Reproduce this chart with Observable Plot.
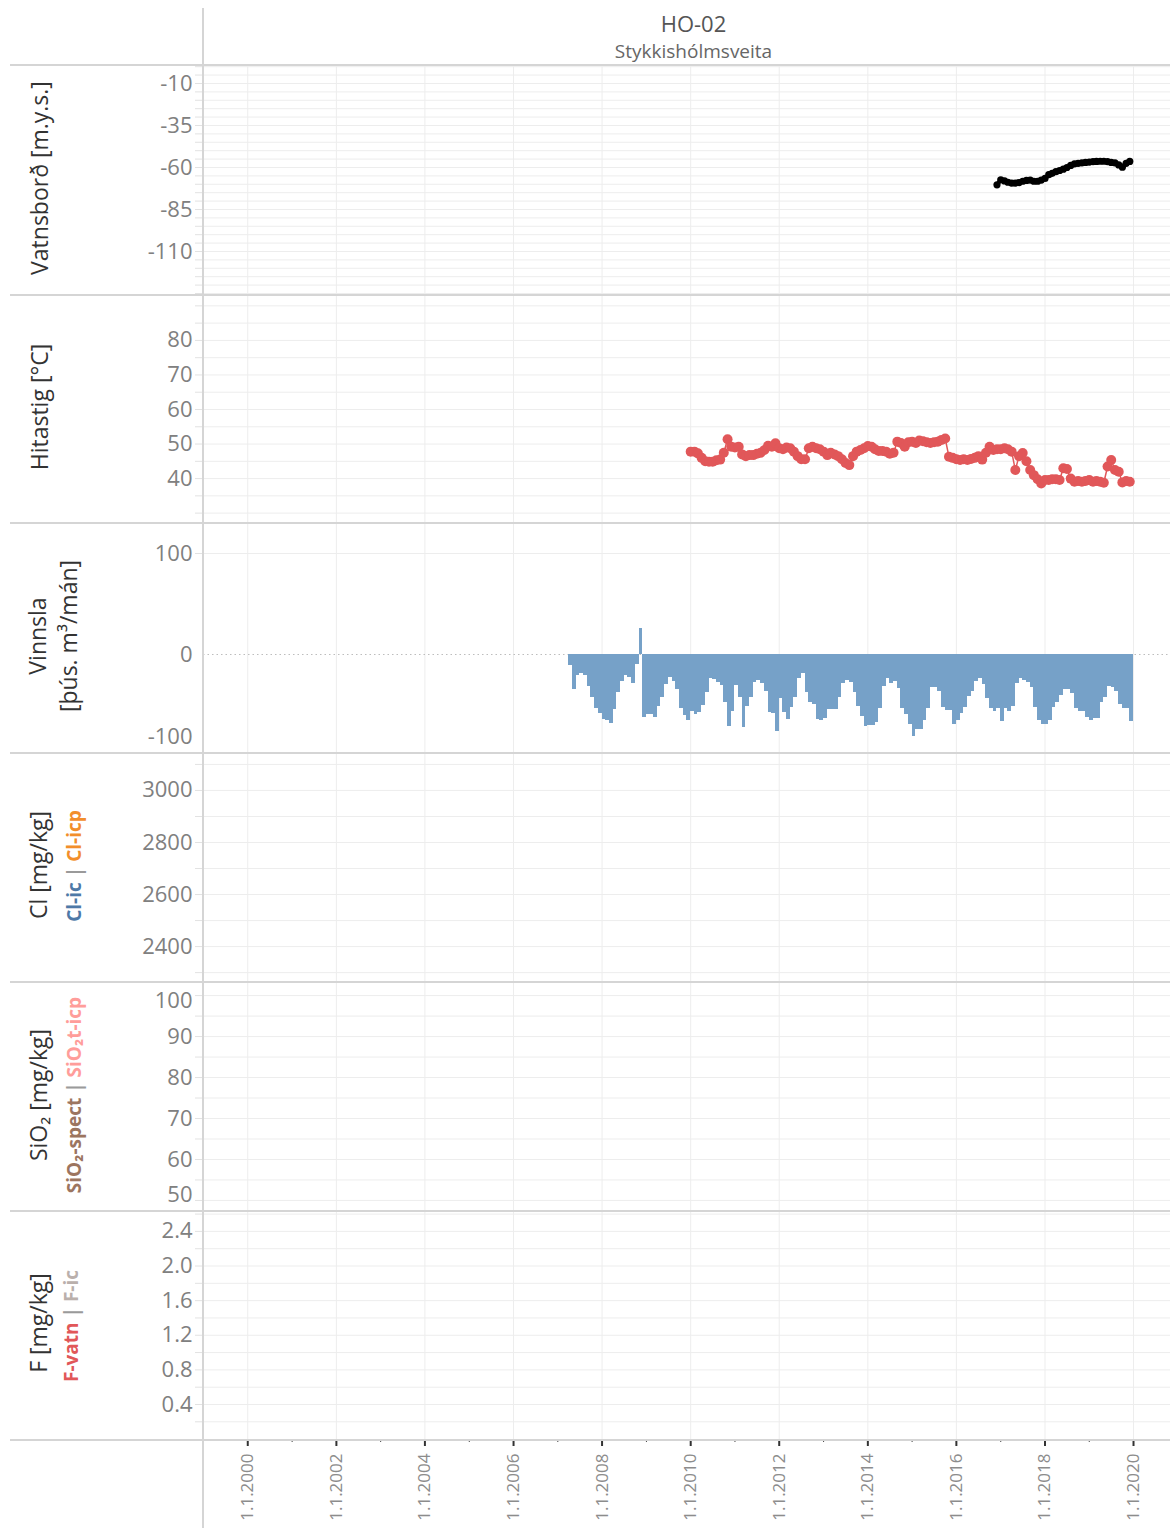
<!DOCTYPE html>
<html>
<head>
<meta charset="utf-8">
<script src="https://cdn.jsdelivr.net/npm/d3@7"></script>
<script src="https://cdn.jsdelivr.net/npm/@observablehq/plot@0.6"></script>
<style>
  body { margin: 0; background: #fff; font-family: "Open Sans", sans-serif; }
  #root { position: relative; width: 1170px; height: 1528px; overflow: hidden; background: #fff; }
  .hline { position: absolute; left: 10px; width: 1160px; height: 2px; background: #d5d5d5; z-index: 5; }
  .vline { position: absolute; left: 202px; top: 8px; width: 2px; height: 1520px; background: #d5d5d5; z-index: 5; }
  .pan { position: absolute; left: 0; }
  .lab { position: absolute; white-space: nowrap; transform: translate(-50%, -50%) rotate(-90deg); font-size: 23px; color: #333; line-height: 1; }
  .sub { font-size: 19px; font-weight: 700; }
  #title { position: absolute; left: 210px; width: 967px; top: 8px; text-align: center; font-size: 22px; color: #555; }
  #subtitle { position: absolute; left: 210px; width: 967px; top: 38px; text-align: center; font-size: 19px; color: #666; }
</style>
</head>
<body>
<div id="root">
  <div id="title">HO-02</div>
  <div id="subtitle">Stykkishólmsveita</div>
</div>
<script>
// ---------------- DATA ----------------
const title = "HO-02";
const subtitle = "Stykkishólmsveita";

// Water level (Vatnsborð, m.y.s.), monthly from Dec 2016
const levelStart = "2016-12-01";
const levelValues = [
  -70.3,
  -67.3, -68, -68.8, -69.3, -69.3, -69, -68.2, -67.7, -67.5, -68.2, -68.2, -67.5,
  -66.5, -64.3, -63.5, -62.5, -61.8, -61, -60, -58.8, -57.8, -57.5, -57.2, -57,
  -56.8, -56.5, -56.4, -56.3, -56.3, -56.5, -57, -57.2, -58.5, -59.8, -57.5, -56.4
];

// Temperature (Hitastig, °C), monthly from Jan 2010
const tempStart = "2010-01-01";
const tempValues = [
  47.8, 47.8, 47.3, 46, 45, 44.9, 44.9, 45.3, 45.5, 47.5, 51.4, 49.2,
  49, 49.2, 47, 46.5, 46.8, 46.8, 47.2, 47.5, 48.3, 49.5, 49.2, 50.2,
  48.8, 48.5, 49, 48.8, 47.8, 46.5, 45.6, 45.6, 48.8, 49.2, 48.8, 48.5,
  47.8, 46.8, 47.5, 47, 46.5, 45.6, 44.5, 43.9, 46.5, 47.8, 48.3, 48.8,
  49.4, 49.2, 48.5, 48, 48, 47.8, 47.2, 47.5, 50.7, 50.3, 49.2, 50.5,
  50.7, 50.3, 51, 50.8, 50.5, 50.3, 50.5, 50.7, 51.2, 51.6, 46.3, 46,
  45.6, 45.4, 45.6, 45.4, 45.7, 46, 46.5, 45.5, 47.5, 49.2, 48.3, 48.5,
  48.5, 48.8, 48.5, 47.8, 42.5, 46.5, 47.4, 45, 42.5, 41, 39.8, 38.6,
  39.6, 39.6, 39.8, 39.8, 39.6, 43, 42.8, 40, 39.1, 39.3, 39.1, 39.3,
  39.6, 39.1, 39.3, 39.1, 38.8, 43.5, 45.4, 42.5, 42, 38.9, 39.3, 39.1
];

// Production (Vinnsla, þús. m³/mán), monthly from Apr 2007
const prodStart = "2007-04-01";
const prodValues = [
  -10.6, -34.7, -20.8, -18.8, -20.5, -32, -42.2, -53.8, -58.7,
  -64.4, -65.3, -68.3, -54.5, -37.3, -26.4, -20.8, -23, -29, -10, 25.7, -62.7,
  -59.4, -59.4, -62.7, -51.2, -42.2, -29.7, -22.4, -26.4, -34.7, -53.5, -60.4, -65.3,
  -56.1, -59.4, -57.8, -50.2, -38, -23.8, -24.8, -27.4, -30.4, -47.9, -71, -56,
  -30.4, -42.9, -72.6, -51.2, -42.9, -28, -25.7, -29, -36.3, -57.8, -58.7, -75.9,
  -43.6, -57.8, -64.4, -52.1, -42.2, -23.8, -19.1, -38, -47.9, -49.5, -64.4, -65.3,
  -63.4, -54.5, -54.5, -54.5, -42.9, -29, -25.7, -28, -38, -51.2, -61.7, -71,
  -70, -70, -67.7, -53.5, -31.4, -23.8, -29, -27, -34, -53.5, -59.4, -69.3,
  -80.9, -74.3, -74.3, -65.3, -53.5, -33, -32.3, -37, -52.1, -55.4, -55.4, -69.3,
  -65.3, -58.7, -52.1, -41.3, -36.3, -26.4, -23.8, -30, -43.6, -53.5, -56.1, -53.5,
  -66.7, -53.5, -56.8, -51.2, -29, -23.8, -25.7, -28, -33, -52.1, -65.3, -69.3,
  -69.3, -65.3, -52.1, -47.9, -40.3, -34.7, -34.7, -38.9, -53.5, -56.1, -56.1, -62,
  -65.3, -63.4, -63.4, -47.9, -42.2, -31.4, -33, -37, -49.5, -53.5, -53.5, -66
];

// Tick values
const levelTicks = [-10, -35, -60, -85, -110];
const tempTicks = [80, 70, 60, 50, 40];
const prodTicks = [100, 0];
const clTicks = [3000, 2800, 2600, 2400];
const sioTicks = [90, 80, 70, 60];
const fTicks = [2.4, 2.0, 1.6, 1.2, 0.8, 0.4];
const yearTicks = [2000, 2002, 2004, 2006, 2008, 2010, 2012, 2014, 2016, 2018, 2020];
const minorYearTicks = [2001, 2003, 2005, 2007, 2009, 2011, 2013, 2015, 2017, 2019];

// ---------------- BUILD ----------------
const root = document.getElementById("root");
const W = 1170, ML = 203;
const utc = (s) => new Date(s + "T00:00:00Z");
const yr = (y) => new Date(Date.UTC(y, 0, 1));
const xDomain = [yr(1999), new Date(Date.UTC(2020, 10, 1))];
const monthly = (start, vals) => vals.map((v, i) => {
  const d = d3.utcMonth.offset(utc(start), i);
  return {date: d, end: d3.utcMonth.offset(d, 1), value: v};
});
const level = monthly(levelStart, levelValues);
const temp = monthly(tempStart, tempValues);
const prod = monthly(prodStart, prodValues);

const GRID = "#ededed", TICKC = "#e2e2e2", LABC = "#808080", FONT = 22;
const plainFmt = d => String(d);

function panel(top, height, yDomain, minor, major, extra, marks, fmt = plainFmt) {
  const p = Plot.plot({
    width: W, height,
    marginLeft: ML, marginRight: 0, marginTop: 0, marginBottom: 0,
    style: {fontFamily: "Open Sans, sans-serif", background: "transparent", overflow: "visible"},
    x: {type: "utc", domain: xDomain, axis: null},
    y: {domain: yDomain, axis: null},
    marks: [
      Plot.gridX({ticks: yearTicks.map(yr), stroke: GRID, strokeOpacity: 1}),
      Plot.gridY({ticks: minor, stroke: GRID, strokeOpacity: 1}),
      Plot.axisY({ticks: minor, tickSize: 8, tickFormat: () => "", color: TICKC, label: null}),
      Plot.axisY({ticks: major, tickSize: 0, tickPadding: 11, color: LABC, fontSize: FONT, tickFormat: fmt, label: null}),
      ...extra.map(e => Plot.axisY({ticks: [e.v], tickSize: 0, tickPadding: 11, color: LABC, fontSize: FONT, dy: e.dy, tickFormat: fmt, label: null})),
      ...marks
    ]
  });
  const div = document.createElement("div");
  div.className = "pan";
  div.style.top = top + "px";
  div.appendChild(p);
  root.appendChild(div);
}

function label(x, y, html, cls) {
  const d = document.createElement("div");
  d.className = "lab" + (cls ? " " + cls : "");
  d.style.left = x + "px";
  d.style.top = y + "px";
  d.innerHTML = html;
  root.appendChild(d);
}

// Panel 1: Vatnsborð
panel(65, 230, [-136.2, 0.7], d3.range(-135, 1, 5), levelTicks, [], [
  Plot.line(level, {x: "date", y: "value", stroke: "#000", strokeWidth: 4}),
  Plot.dot(level, {x: "date", y: "value", r: 3.6, fill: "#000"})
]);
// Panel 2: Hitastig
panel(295, 228, [27, 93], d3.range(30, 91, 5), tempTicks, [], [
  Plot.line(temp, {x: "date", y: "value", stroke: "#e15759", strokeWidth: 1.5}),
  Plot.dot(temp, {x: "date", y: "value", r: 5, fill: "#e15759"})
]);
// Panel 3: Vinnsla
panel(523, 230, [-98, 129.7], [100], prodTicks, [{v: -100, dy: -19}], [
  Plot.ruleY([0], {stroke: "#bdbdbd", strokeDasharray: "1.5,3"}),
  Plot.rect(prod, {x1: "date", x2: "end", y1: 0, y2: "value", fill: "#76a1c8", shapeRendering: "crispEdges"})
]);
// Panel 4: Cl
panel(753, 229, [2262, 3142], d3.range(2300, 3101, 100), clTicks, [], []);
// Panel 5: SiO2
panel(982, 229, [47.3, 103.2], d3.range(50, 101, 5), sioTicks, [{v: 100, dy: 5}, {v: 50, dy: -5}], []);
// Panel 6: F
panel(1211, 229, [-0.016, 2.63], d3.range(1, 14).map(i => i * 0.2), fTicks, [], [], d => d.toFixed(1));

// Bottom x axis
{
  const p = Plot.plot({
    width: W, height: 88,
    marginLeft: ML, marginRight: 0, marginTop: 0, marginBottom: 88,
    style: {fontFamily: "Open Sans, sans-serif", background: "transparent", overflow: "visible"},
    x: {type: "utc", domain: xDomain, axis: null},
    marks: [
      Plot.axisX({ticks: minorYearTicks.map(yr), tickSize: 2, tickFormat: () => "", color: "#444", label: null}),
      Plot.axisX({ticks: yearTicks.map(yr), tickSize: 6, tickFormat: () => "", color: "#333", strokeWidth: 2, label: null}),
      Plot.axisX({ticks: yearTicks.map(yr), tickSize: 0, tickPadding: 13, tickRotate: -90,
        tickFormat: d => "1.1." + d.getUTCFullYear(), color: "#8c8c8c", fontSize: 17, label: null})
    ]
  });
  const div = document.createElement("div");
  div.className = "pan";
  div.style.top = "1440px";
  div.appendChild(p);
  root.appendChild(div);
}

// Left labels
label(39, 178, "Vatnsborð [m.y.s.]");
label(39, 407, "Hitastig [°C]");
label(37, 636, "Vinnsla");
label(68, 636, "[þús. m³/mán]");
label(38, 865, "Cl [mg/kg]");
label(74, 866, '<span style="color:#4e79a7">Cl-ic</span> <span style="color:#9a9a9a">|</span> <span style="color:#f28e2b">Cl-icp</span>', "sub");
label(38, 1095, "SiO₂ [mg/kg]");
label(74, 1095, '<span style="color:#9c755f">SiO₂-spect</span> <span style="color:#9a9a9a">|</span> <span style="color:#ff9d9a">SiO₂t-icp</span>', "sub");
label(38, 1323, "F [mg/kg]");
label(71, 1326, '<span style="color:#e15759">F-vatn</span> <span style="color:#9a9a9a">|</span> <span style="color:#bab0ac">F-ic</span>', "sub");

// Separator lines
[65, 295, 523, 753, 982, 1211, 1440].forEach(y => {
  const d = document.createElement("div");
  d.className = "hline";
  d.style.top = (y - 1) + "px";
  root.appendChild(d);
});
const v = document.createElement("div");
v.className = "vline";
root.appendChild(v);
</script>
</body>
</html>
